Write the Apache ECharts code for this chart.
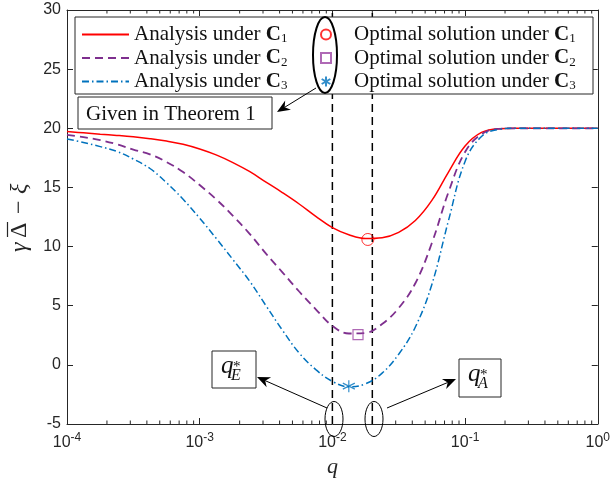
<!DOCTYPE html>
<html>
<head>
<meta charset="utf-8">
<script src="https://cdn.jsdelivr.net/npm/echarts@6/dist/echarts.min.js"></script>
<style>
  html, body { margin: 0; padding: 0; background: #fff; }
  #chart { width: 613px; height: 487px; }
</style>
</head>
<body>
<div id="chart"></div>
<script>
// sample points along q (log scale, 1/8 decade apart)
const qGrid = [1e-4, 1.33e-4, 1.78e-4, 2.37e-4, 3.16e-4, 4.22e-4, 5.62e-4, 7.5e-4,
  1e-3, 1.33e-3, 1.78e-3, 2.37e-3, 3.16e-3, 4.22e-3, 5.62e-3, 7.5e-3,
  0.01, 0.0133, 0.0178, 0.0237, 0.0316, 0.0422, 0.0562, 0.075,
  0.1, 0.133, 0.178, 0.237, 0.316, 1];

// gamma*Delta - xi under C1, C2, C3
const valsC1 = [19.72, 19.62, 19.5, 19.4, 19.28, 19.12, 18.92, 18.65,
  18.25, 17.75, 17.1, 16.35, 15.45, 14.55, 13.6, 12.55,
  11.6, 11.0, 10.68, 10.75, 11.2, 12.2, 13.9, 16.3,
  18.5, 19.65, 19.97, 20, 20, 20];
const valsC2 = [19.44, 19.25, 19.0, 18.65, 18.2, 17.8, 17.15, 16.3,
  15.2, 14.0, 12.6, 11.1, 9.4, 7.8, 6.2, 4.7,
  3.3, 2.65, 2.7, 3.45, 4.8, 6.9, 10.3, 14.6,
  18.0, 19.5, 19.95, 20, 20, 20];
const valsC3 = [19.1, 18.8, 18.45, 18.05, 17.4, 16.6, 15.4, 14.0,
  12.4, 10.7, 8.9, 7.1, 5.0, 2.9, 1.0, -0.4,
  -1.4, -1.85, -1.6, -0.7, 0.9, 3.2, 6.8, 12.2,
  17.2, 19.3, 19.9, 20, 20, 20];

// optimal solutions [q, value]
const optC1 = [0.0185, 10.6];
const optC2 = [0.0156, 2.55];
const optC3 = [0.0133, -1.8];

// q*_E and q*_A
const qMarks = [0.01, 0.02];

const xDecades = [1e-4, 1e-3, 1e-2, 1e-1];
const minorMult = [2, 3, 4, 5, 6, 7, 8, 9];
const yMin = -5, yMax = 30, yStep = 5;

const seriesNames = ['Analysis under C1', 'Analysis under C2', 'Analysis under C3'];
const optNames = ['Optimal solution under C1', 'Optimal solution under C2', 'Optimal solution under C3'];

const RED = '#ff0000', PURPLE = '#7e2f8e', BLUE = '#0072bd', AXIS = '#262626';
const SERIF = '"Liberation Serif", "DejaVu Serif", serif';
const SANS = '"Liberation Sans", Arial, sans-serif';

const chart = echarts.init(document.getElementById('chart'));

function pairs(vals) {
  return qGrid.map((q, i) => [q, vals[i]]);
}

const minorTicks = [];
xDecades.forEach(d => minorMult.forEach(m => minorTicks.push([d * m])));

const legendRich = {
  n: { fontFamily: SERIF, fontSize: 21, color: '#111', lineHeight: 22 },
  b: { fontFamily: SERIF, fontSize: 21, fontWeight: 'bold', color: '#111', lineHeight: 22 },
  s: { fontFamily: SERIF, fontSize: 13, color: '#111', lineHeight: 14, verticalAlign: 'bottom' }
};
function legendFmt(name) {
  const m = name.match(/^(.*)C(\d)$/);
  return '{n|' + m[1] + '}{b|C}{s|' + m[2] + '}';
}

// MATLAB-like arrow annotation
function arrow(x1, y1, x2, y2) {
  const dx = x2 - x1, dy = y2 - y1, L = Math.hypot(dx, dy);
  const ux = dx / L, uy = dy / L, nx = -uy, ny = ux;
  const hl = 13, hw = 5.5, back = 9;
  return [
    { type: 'line', z: 80, shape: { x1: x1, y1: y1, x2: x2 - back * ux, y2: y2 - back * uy },
      style: { stroke: '#000', lineWidth: 1 } },
    { type: 'polygon', z: 80, shape: { points: [
        [x2, y2],
        [x2 - hl * ux + hw * nx, y2 - hl * uy + hw * ny],
        [x2 - back * ux, y2 - back * uy],
        [x2 - hl * ux - hw * nx, y2 - hl * uy - hw * ny]
      ] }, style: { fill: '#000' } }
  ];
}

function qLabel(x, y, sub) {
  return [
    { type: 'text', z: 81, x: x, y: y, style: { text: 'q', font: 'italic 25px ' + SERIF, fill: '#111', verticalAlign: 'middle' } },
    { type: 'text', z: 81, x: x + 12, y: y + 1, style: { text: '*', font: '15px ' + SERIF, fill: '#111', verticalAlign: 'middle' } },
    { type: 'text', z: 81, x: x + 10, y: y + 10, style: { text: sub, font: 'italic 16px ' + SERIF, fill: '#111', verticalAlign: 'middle' } }
  ];
}

const asterisk = 'path://M0,-10L0,10M-8.66,-5L8.66,5M-8.66,5L8.66,-5';

const option = {
  backgroundColor: '#fff',
  animation: false,
  grid: { left: 67, right: 15, top: 10, bottom: 63 },
  xAxis: [{
    type: 'log', logBase: 10, min: 1e-4, max: 1,
    name: 'q', nameLocation: 'middle', nameGap: 32,
    nameTextStyle: { fontFamily: SERIF, fontStyle: 'italic', fontSize: 22, color: AXIS },
    axisLine: { onZero: false, lineStyle: { color: AXIS, width: 1 } },
    axisTick: { inside: true, length: 6, lineStyle: { color: AXIS } },
    splitLine: { show: false },
    axisLabel: {
      margin: 8, color: AXIS,
      formatter: v => '{b|10}{s|' + Math.round(Math.log10(v)) + '}',
      rich: {
        b: { fontFamily: SANS, fontSize: 16, color: AXIS, lineHeight: 22 },
        s: { fontFamily: SANS, fontSize: 12, color: AXIS, lineHeight: 12, verticalAlign: 'top' }
      }
    }
  }, {
    type: 'log', logBase: 10, min: 1e-4, max: 1, position: 'top',
    axisLine: { onZero: false, lineStyle: { color: AXIS, width: 1 } },
    axisTick: { inside: true, length: 6, lineStyle: { color: AXIS } },
    axisLabel: { show: false }, splitLine: { show: false }
  }],
  yAxis: [{
    type: 'value', min: yMin, max: yMax, interval: yStep,
    axisLine: { show: true, lineStyle: { color: AXIS, width: 1 } },
    axisTick: { inside: true, length: 6, lineStyle: { color: AXIS } },
    splitLine: { show: false },
    axisLabel: { fontFamily: SANS, fontSize: 16, color: AXIS, margin: 6 }
  }, {
    type: 'value', min: yMin, max: yMax, interval: yStep, position: 'right',
    axisLine: { show: true, lineStyle: { color: AXIS, width: 1 } },
    axisTick: { inside: true, length: 6, lineStyle: { color: AXIS } },
    axisLabel: { show: false }, splitLine: { show: false }
  }],
  legend: [{
    data: seriesNames, orient: 'vertical', left: 81, top: 24, padding: 0,
    itemWidth: 47, itemHeight: 14, itemGap: 2, z: 60,
    itemStyle: { opacity: 0 },
    formatter: legendFmt, textStyle: { rich: legendRich },
    selectedMode: false
  }, {
    data: optNames, orient: 'vertical', left: 320, top: 24, padding: 0,
    itemWidth: 10, itemHeight: 10, itemGap: 2, z: 60,
    formatter: legendFmt, textStyle: { rich: legendRich, padding: [0, 0, 0, 18] },
    selectedMode: false
  }],
  series: [
    {
      type: 'custom', name: 'minorTicks', xAxisIndex: 0, yAxisIndex: 0, silent: true, clip: false,
      data: minorTicks, encode: { x: 0 },
      renderItem: (params, api) => {
        const v = api.value(0);
        const b = api.coord([v, yMin]);
        const t = api.coord([v, yMax]);
        return { type: 'group', children: [
          { type: 'line', shape: { x1: b[0], y1: b[1], x2: b[0], y2: b[1] - 3.5 }, style: { stroke: AXIS, lineWidth: 1 } },
          { type: 'line', shape: { x1: t[0], y1: t[1], x2: t[0], y2: t[1] + 3.5 }, style: { stroke: AXIS, lineWidth: 1 } }
        ] };
      }
    },
    {
      type: 'line', name: 'qE', data: [[qMarks[0], yMin], [qMarks[0], yMax]], symbol: 'none', silent: true,
      lineStyle: { color: '#000', width: 1.5, type: [8, 5] }
    },
    {
      type: 'line', name: 'qA', data: [[qMarks[1], yMin], [qMarks[1], yMax]], symbol: 'none', silent: true,
      lineStyle: { color: '#000', width: 1.5, type: [8, 5] }
    },
    {
      type: 'line', name: seriesNames[0], data: pairs(valsC1), symbol: 'none', smooth: 0.4,
      lineStyle: { color: RED, width: 1.5 }, itemStyle: { color: RED }
    },
    {
      type: 'line', name: seriesNames[1], data: pairs(valsC2), symbol: 'none', smooth: 0.4,
      lineStyle: { color: PURPLE, width: 1.8, type: [8, 5] }, itemStyle: { color: PURPLE }
    },
    {
      type: 'line', name: seriesNames[2], data: pairs(valsC3), symbol: 'none', smooth: 0.4,
      lineStyle: { color: BLUE, width: 1.5, type: [7, 3, 1.5, 3] }, itemStyle: { color: BLUE }
    },
    {
      type: 'scatter', name: optNames[0], data: [optC1], symbol: 'circle', symbolSize: 12, z: 5,
      itemStyle: { color: 'rgba(0,0,0,0)', borderColor: RED, borderWidth: 1 }
    },
    {
      type: 'scatter', name: optNames[1], data: [optC2], symbol: 'rect', symbolSize: 10, z: 5,
      itemStyle: { color: 'rgba(0,0,0,0)', borderColor: '#9b44a3', borderWidth: 1.2 }
    },
    {
      type: 'scatter', name: optNames[2], data: [optC3], symbol: asterisk, symbolSize: 12, z: 5,
      itemStyle: { color: 'rgba(0,0,0,0)', borderColor: BLUE, borderWidth: 1.2 }
    }
  ],
  graphic: [
    // y axis title: gamma Delta-bar minus xi
    { type: 'group', x: 20, y: 252, rotation: Math.PI / 2, children: [
      { type: 'text', x: 0, y: 0, style: { text: 'γ', font: 'italic 24px ' + SERIF, fill: AXIS, verticalAlign: 'middle' } },
      { type: 'text', x: 14, y: 0, style: { text: 'Δ', font: '24px ' + SERIF, fill: AXIS, verticalAlign: 'middle' } },
      { type: 'line', shape: { x1: 15, y1: -12.5, x2: 30, y2: -12.5 }, style: { stroke: AXIS, lineWidth: 1.2 } },
      { type: 'text', x: 38, y: 0, style: { text: '−', font: '24px ' + SERIF, fill: AXIS, verticalAlign: 'middle' } },
      { type: 'text', x: 58, y: 0, style: { text: 'ξ', font: 'italic 24px ' + SERIF, fill: AXIS, verticalAlign: 'middle' } }
    ] },
    // legend box
    { type: 'rect', z: 50, shape: { x: 75, y: 17, width: 518, height: 77 },
      style: { fill: '#fff', stroke: AXIS, lineWidth: 1 } },
    // ellipse around optimal markers
    { type: 'ellipse', z: 70, shape: { cx: 325, cy: 55, rx: 12, ry: 38 },
      style: { fill: null, stroke: '#000', lineWidth: 2 } },
    ...arrow(316, 88, 277, 112),
    { type: 'rect', z: 80, shape: { x: 78, y: 97, width: 194, height: 32 },
      style: { fill: '#fff', stroke: AXIS, lineWidth: 1 } },
    { type: 'text', z: 81, x: 86, y: 114,
      style: { text: 'Given in Theorem 1', font: '21px ' + SERIF, fill: '#111', verticalAlign: 'middle' } },
    // small ellipses at the axis
    { type: 'ellipse', z: 70, shape: { cx: 334, cy: 419, rx: 9, ry: 17.5 },
      style: { fill: null, stroke: '#000', lineWidth: 1 } },
    { type: 'ellipse', z: 70, shape: { cx: 374, cy: 419, rx: 9, ry: 17.5 },
      style: { fill: null, stroke: '#000', lineWidth: 1 } },
    ...arrow(327, 408, 257, 377),
    ...arrow(387, 408, 456, 379),
    { type: 'rect', z: 79, shape: { x: 212, y: 351, width: 44, height: 37 },
      style: { fill: '#fff', stroke: AXIS, lineWidth: 1 } },
    ...qLabel(221, 366, 'E'),
    { type: 'rect', z: 79, shape: { x: 459, y: 359, width: 42, height: 38 },
      style: { fill: '#fff', stroke: AXIS, lineWidth: 1 } },
    ...qLabel(468, 374, 'A')
  ]
};

chart.setOption(option);
</script>
</body>
</html>
